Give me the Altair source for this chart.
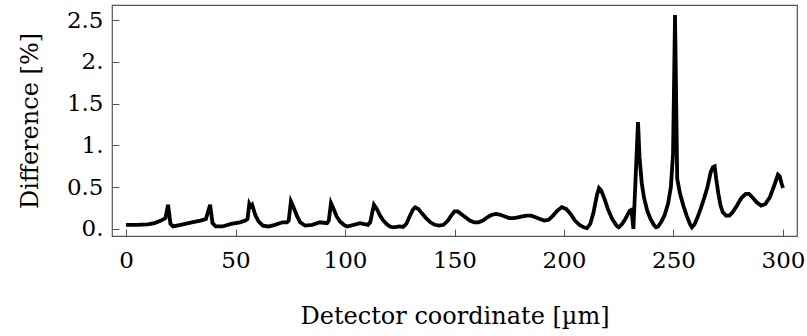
import altair as alt
import pandas as pd

xs = [0, 5, 10, 13, 16, 18, 19.2, 20.3, 21.5, 25, 30, 34, 36.5, 38.4, 39.5, 41, 44, 48, 52,
      54.5, 55.5, 56.3, 56.9, 57.6, 59, 60.5, 62.5, 65, 68, 71.5, 73.5, 74.3, 75.3, 76.5, 78,
      79.5, 81.7, 85, 88.6, 91.8, 92.6, 93.6, 94.8, 96.2, 97.7, 99.5, 100.9, 104, 106.8,
      110.5, 111.5, 113.2, 114.5, 116, 117.5, 119, 120.5, 122, 123.5, 125, 126.5, 128, 129.5,
      131, 132, 133.5, 135, 137, 139, 141, 143, 145, 147, 148.5, 150, 151.5, 153, 155, 157,
      159, 161, 163, 165, 167, 169, 171, 173, 175, 177, 179, 181, 183, 185, 187, 189, 191,
      193, 195, 197, 199, 201, 203, 205, 207, 209, 210.5, 212, 213.5, 215, 216, 217, 218.5,
      220, 222, 224, 225, 226.5, 228, 230, 230.8, 231.7, 233.8, 234.5, 235.5, 236.5, 238,
      239.5, 241, 242, 243, 244.5, 246, 247.5, 248.8, 249.8, 250.7, 251.7, 253, 254.5, 256,
      257.5, 258.4, 259.5, 261, 262.5, 264, 265.5, 267, 268, 268.8, 269.5, 270.5, 271.5,
      272.5, 274, 275.5, 277, 279, 281, 283, 284.5, 286, 288, 290, 292, 294, 296, 297.7,
      298.5, 299.3, 300]
ys = [0.05, 0.05, 0.055, 0.07, 0.1, 0.13, 0.29, 0.06, 0.03, 0.05, 0.08, 0.1, 0.12, 0.29,
      0.07, 0.03, 0.03, 0.06, 0.08, 0.1, 0.12, 0.3, 0.27, 0.29, 0.17, 0.09, 0.04, 0.03, 0.05,
      0.08, 0.08, 0.1, 0.33, 0.26, 0.16, 0.08, 0.04, 0.05, 0.08, 0.07, 0.1, 0.31, 0.24, 0.15,
      0.09, 0.05, 0.03, 0.05, 0.07, 0.05, 0.08, 0.29, 0.24, 0.16, 0.1, 0.06, 0.03, 0.02,
      0.025, 0.03, 0.025, 0.06, 0.15, 0.23, 0.26, 0.24, 0.19, 0.13, 0.08, 0.05, 0.04, 0.05,
      0.1, 0.16, 0.21, 0.21, 0.18, 0.14, 0.1, 0.08, 0.08, 0.1, 0.14, 0.17, 0.18, 0.17, 0.15,
      0.13, 0.13, 0.14, 0.15, 0.16, 0.16, 0.14, 0.12, 0.1, 0.11, 0.16, 0.22, 0.26, 0.24,
      0.18, 0.1, 0.05, 0.02, 0.01, 0.06, 0.2, 0.4, 0.49, 0.46, 0.36, 0.24, 0.12, 0.04, 0.02,
      0.06, 0.12, 0.22, 0.23, 0.0, 1.28, 0.85, 0.55, 0.38, 0.22, 0.12, 0.05, 0.02, 0.03,
      0.09, 0.17, 0.3, 0.5, 0.9, 2.56, 0.6, 0.42, 0.28, 0.16, 0.06, 0.02, 0.05, 0.14, 0.25,
      0.37, 0.5, 0.68, 0.74, 0.75, 0.6, 0.42, 0.28, 0.2, 0.16, 0.16, 0.2, 0.28, 0.37, 0.42,
      0.42, 0.38, 0.32, 0.28, 0.3, 0.38, 0.52, 0.65, 0.63, 0.55, 0.49]

x_ticks = [0, 50, 100, 150, 200, 250, 300]
y_ticks = [0, 0.5, 1, 1.5, 2, 2.5]

df = pd.DataFrame({"x": xs, "y": ys})

FONT = "DejaVu Serif, serif"

chart = alt.Chart(df).mark_line(color="black", strokeWidth=3.8, clip=True).encode(
    x=alt.X("x:Q",
            scale=alt.Scale(domain=[-6.4, 306.4], nice=False, zero=False),
            axis=alt.Axis(values=x_ticks, title="Detector coordinate [µm]",
                          grid=False, domain=False, tickSize=7, offset=-7,
                          tickColor="#555", labelPadding=13, labelFontSize=23,
                          labelFont=FONT, labelColor="black", titleFont=FONT,
                          titleFontSize=24, titleFontWeight="normal",
                          titleColor="black", titlePadding=32, labelFlush=False)),
    y=alt.Y("y:Q",
            scale=alt.Scale(domain=[-0.084, 2.68], nice=False, zero=False),
            axis=alt.Axis(values=y_ticks, title="Difference [%]",
                          labelExpr="datum.value % 1 == 0 ? format(datum.value, '.0f') + '.' : format(datum.value, '.1f')",
                          grid=False, domain=False, tickSize=7, offset=-7,
                          tickColor="#555", labelPadding=9, labelFontSize=23,
                          labelFont=FONT, labelColor="black", titleFont=FONT,
                          titleFontSize=24, titleFontWeight="normal",
                          titleColor="black", titlePadding=24, labelFlush=False)),
).properties(
    width=685, height=231,
    autosize=alt.AutoSizeParams(type="none"),
    padding={"left": 112, "top": 5, "right": 10, "bottom": 100},
).configure_view(stroke="#555", strokeWidth=1.2)

chart.save("out.html", embed_options={"renderer": "svg", "actions": False})
